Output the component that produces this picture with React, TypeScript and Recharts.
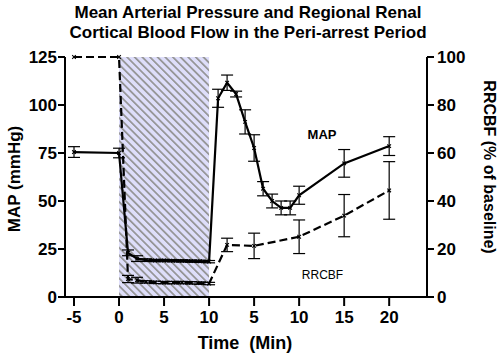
import React from 'react';
import { ComposedChart, Line, XAxis, YAxis, ErrorBar, ReferenceArea } from 'recharts';

const FONT = '"Liberation Sans", Arial, Helvetica, sans-serif';

// MAP (mmHg), left axis
const mapTimes = [-5, 0, 1, 2, 3, 4, 5, 6, 7, 8, 9, 10, 11, 12, 13, 14, 15, 16, 17, 18, 19, 20, 25, 30];
const mapValues = [75.5, 75, 23, 20, 19.2, 19, 19, 18.9, 18.8, 18.7, 18.6, 18.4, 103.5, 111.6, 105.7, 91.2, 77.6, 56.4, 50, 46.4, 46.4, 53, 69.6, 78.6];
const mapErrors = [2.8, 2.5, 1.5, 1.5, 0.7, 0.6, 0.6, 0.6, 0.6, 0.6, 0.6, 0.6, 4.7, 4, 1.5, 6.3, 6.9, 3.7, 3.6, 3.6, 3.6, 4.7, 7.2, 4.9];

// RRCBF (% of baseline), right axis
const rrcbfTimes = [-5, 0, 1, 2, 3, 4, 5, 6, 7, 8, 9, 10, 12, 15, 20, 25, 30];
const rrcbfValues = [100, 100, 7.5, 7, 6.3, 6.1, 6, 6, 6, 5.9, 5.8, 5.6, 21.7, 21.3, 25.1, 33.9, 44.4];
const rrcbfErrors = [0, 0, 1.5, 1.2, 0.5, 0.5, 0.5, 0.5, 0.5, 0.5, 0.5, 0.5, 2.8, 5.3, 7, 8.8, 12];

const xTicks = [-5, 0, 5, 10, 15, 20, 25, 30];
const xTickLabels = ['-5', '0', '5', '10', '5', '10', '15', '20'];
const mapTicks = [0, 25, 50, 75, 100, 125];
const rrcbfTicks = [0, 20, 40, 60, 80, 100];

const mapData = mapTimes.map((t, i) => ({ t, map: mapValues[i], mapErr: mapErrors[i] }));
const rrcbfData = rrcbfTimes.map((t, i) => ({ t, rrcbf: rrcbfValues[i], rrcbfErr: rrcbfErrors[i] }));

const Cross = (props: any) => {
  const { cx, cy } = props;
  if (cx == null || cy == null) return null;
  const s = 1.8;
  return (
    <path
      d={`M${cx - s},${cy - s}L${cx + s},${cy + s}M${cx - s},${cy + s}L${cx + s},${cy - s}`}
      stroke="#000"
      strokeWidth={1.1}
      fill="none"
    />
  );
};

const tickStyle = { fill: '#000', fontSize: 17, fontWeight: 'bold' as const, fontFamily: FONT };
const axisLine = { stroke: '#000', strokeWidth: 2 };

export default function App() {
  return (
    <div style={{ position: 'absolute', left: 0, top: 0, width: 500, height: 355, background: '#fff' }}>
      <ComposedChart width={500} height={355} margin={{ top: 57, right: 0, bottom: 28, left: 0 }}>
        <defs>
          <pattern id="hatch" patternUnits="userSpaceOnUse" width="5.4" height="5.4" patternTransform="rotate(-45)">
            <rect x="0" y="0" width="5.4" height="5.4" fill="#dedefa" />
            <rect x="0" y="0" width="1.7" height="5.4" fill="#939393" />
          </pattern>
        </defs>
        <XAxis
          type="number"
          dataKey="t"
          domain={[-6, 34.2]}
          ticks={xTicks}
          interval={0}
          allowDataOverflow
          tickFormatter={(v: number) => xTickLabels[xTicks.indexOf(v)] ?? String(v)}
          axisLine={axisLine}
          tickLine={axisLine}
          tickSize={9}
          tickMargin={5}
          tick={tickStyle}
          height={30}
        />
        <YAxis
          yAxisId="left"
          domain={[0, 125]}
          ticks={mapTicks}
          interval={0}
          width={65}
          axisLine={axisLine}
          tickLine={axisLine}
          tickSize={7}
          tickMargin={1}
          tick={tickStyle}
        />
        <YAxis
          yAxisId="right"
          orientation="right"
          domain={[0, 100]}
          ticks={rrcbfTicks}
          interval={0}
          width={73}
          axisLine={axisLine}
          tickLine={axisLine}
          tickSize={7}
          tickMargin={3}
          tick={tickStyle}
        />
        <ReferenceArea
          yAxisId="left"
          x1={0}
          x2={10}
          y1={0}
          y2={125}
          fill="url(#hatch)"
          fillOpacity={1}
          stroke="none"
        />
        <Line
          yAxisId="right"
          data={rrcbfData}
          dataKey="rrcbf"
          type="linear"
          stroke="#000"
          strokeWidth={2.2}
          strokeDasharray="8 4"
          dot={<Cross />}
          isAnimationActive={false}
        >
          <ErrorBar dataKey="rrcbfErr" direction="y" width={6} stroke="#000" strokeWidth={1.2} />
        </Line>
        <Line
          yAxisId="left"
          data={mapData}
          dataKey="map"
          type="linear"
          stroke="#000"
          strokeWidth={2.2}
          dot={<Cross />}
          isAnimationActive={false}
        >
          <ErrorBar dataKey="mapErr" direction="y" width={6} stroke="#000" strokeWidth={1.2} />
        </Line>
      </ComposedChart>
      <svg width={500} height={355} style={{ position: 'absolute', left: 0, top: 0, pointerEvents: 'none' }}>
        <g fontFamily={FONT} fontWeight="bold" fill="#000">
          <text x={248} y={18} fontSize={17} textAnchor="middle">Mean Arterial Pressure and Regional Renal</text>
          <text x={248} y={38} fontSize={17} textAnchor="middle">Cortical Blood Flow in the Peri-arrest Period</text>
          <text x={0} y={0} fontSize={17} textAnchor="middle" transform="translate(19.5,179) rotate(-90)">MAP (mmHg)</text>
          <text x={0} y={0} fontSize={16} textAnchor="middle" transform="translate(483.5,167) rotate(90)">RRCBF (% of baseline)</text>
          <text x={245} y={349} fontSize={18} textAnchor="middle">{'Time\u00A0\u00A0(Min)'}</text>
          <text x={322} y={139} fontSize={13} textAnchor="middle">MAP</text>
        </g>
        <text x={322.5} y={278.5} fontSize={12} textAnchor="middle" fontFamily={FONT} fill="#000">RRCBF</text>
      </svg>
    </div>
  );
}
